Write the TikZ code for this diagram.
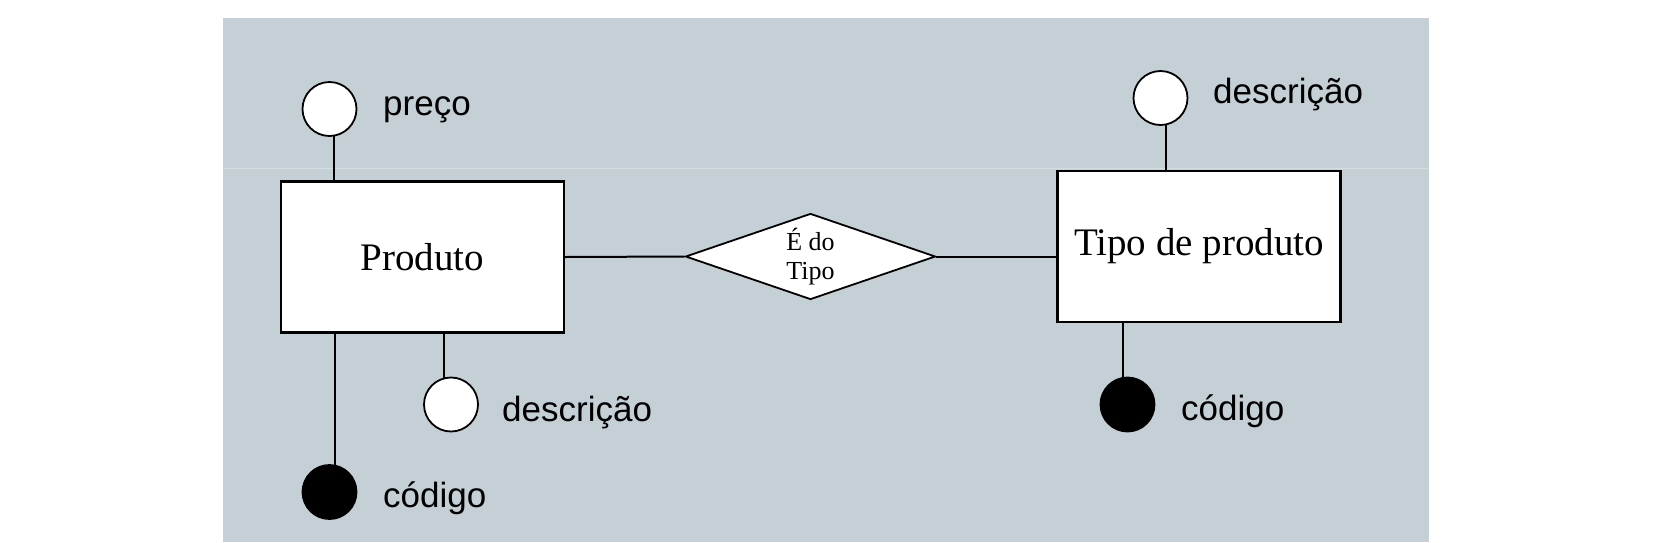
\documentclass[tikz,border=0pt]{standalone}
\usepackage{fontspec}
\newfontfamily\labfont{Liberation Sans}
\newfontfamily\entfont{Liberation Serif}
\usetikzlibrary{shapes.geometric}
\definecolor{bgcol}{RGB}{197,208,214}
\definecolor{seamcol}{RGB}{212,221,226}
\begin{document}
\begin{tikzpicture}[x=1pt,y=-1pt,
  entity/.style={draw=black, fill=white, line width=2.2pt, inner sep=0pt, font=\entfont\fontsize{39}{44}\selectfont},
  attr/.style={circle, draw=black, fill=white, line width=1.8pt, minimum size=54pt, inner sep=0pt},
  keyattr/.style={attr, fill=black},
  lab/.style={anchor=base west, inner sep=0pt, font=\labfont\fontsize{35}{40}\selectfont},
  rel/.style={diamond, draw=black, fill=white, line width=1.8pt, inner sep=0pt, minimum width=250pt, minimum height=86pt, aspect=2.9, align=center, font=\entfont\fontsize{26}{29.5}\selectfont},
  conn/.style={line width=2pt}]
\useasboundingbox (0,0) rectangle (1676,542);
\fill[white] (0,0) rectangle (1676,542);
\fill[bgcol] (223,17.5) rectangle (1429,542);
\draw[seamcol, line width=1.5pt] (223,168.5) -- (1429,168.5);

\node[entity, minimum width=283pt, minimum height=151pt] (produto) at (422.5,257) {Produto};
\node[entity, minimum width=283pt, minimum height=151pt] (tipo) at (1199,246.5) {Tipo de produto};
\node[rel] (rel) at (810.5,256.5) {É do\\Tipo};

\node[attr] (preco) at (329.5,109) {};
\node[attr] (desc1) at (451,404.5) {};
\node[keyattr] (cod1) at (329.5,492) {};
\node[attr] (desc2) at (1160.5,98) {};
\node[keyattr] (cod2) at (1127.5,404.5) {};

\node[lab] (lpreco) at (383,115) {preço};
\node[lab] (ldesc1) at (502,421) {descrição};
\node[lab] (lcod1) at (383,507) {código};
\node[lab] (ldesc2) at (1213,103.5) {descrição};
\node[lab] (lcod2) at (1181,420) {código};

\draw[conn] (preco.-80) -- (preco.-80 |- produto.north);
\draw[conn] (desc1.105) -- (desc1.105 |- produto.south);
\draw[conn] (cod1.78) -- (cod1.78 |- produto.south);
\draw[conn] (desc2.-78) -- (desc2.-78 |- tipo.north);
\draw[conn] (cod2.100) -- (cod2.100 |- tipo.south);
\draw[conn] (produto.east) -- (rel.west);
\draw[conn] (rel.east) -- (rel.east -| tipo.west);
\end{tikzpicture}
\end{document}
